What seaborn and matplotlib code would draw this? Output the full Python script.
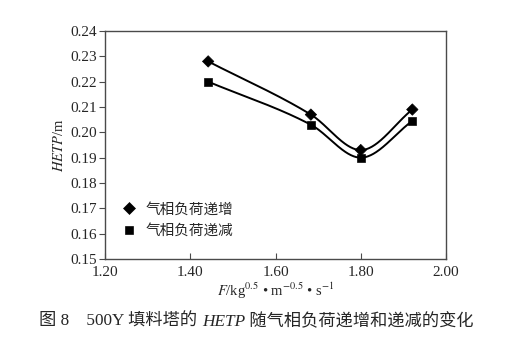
import numpy as np
import pandas as pd
import seaborn as sns
import matplotlib
matplotlib.use("Agg")
import matplotlib.pyplot as plt

# data
flow = [1.442, 1.683, 1.800, 1.921]
hetp_up = [0.228, 0.207, 0.193, 0.209]
hetp_down = [0.220, 0.203, 0.190, 0.2045]
series_names = ["气相负荷递增", "气相负荷递减"]
x_ticks = [1.20, 1.40, 1.60, 1.80, 2.00]
y_ticks = [0.15, 0.16, 0.17, 0.18, 0.19, 0.20, 0.21, 0.22, 0.23, 0.24]

sns.set_theme(style="ticks")
plt.rcParams["font.family"] = ["Liberation Serif", "Noto Sans CJK SC"]
plt.rcParams["mathtext.fontset"] = "stix"
cjk = ["Noto Sans CJK SC", "DejaVu Sans"]
spine_col = "#4a4a4a"


def smooth(x, y, n=300):
    # shape-preserving cubic through the measured points,
    # end tangents follow the end segments
    x = np.asarray(x, float)
    y = np.asarray(y, float)
    k = len(x)
    h = np.diff(x)
    d = np.diff(y) / h
    m = np.zeros(k)
    for i in range(1, k - 1):
        if d[i - 1] * d[i] > 0:
            w1 = 2 * h[i] + h[i - 1]
            w2 = h[i] + 2 * h[i - 1]
            m[i] = (w1 + w2) / (w1 / d[i - 1] + w2 / d[i])
    m[0] = d[0]
    m[-1] = d[-1]
    xs = np.linspace(x[0], x[-1], n)
    idx = np.clip(np.searchsorted(x, xs) - 1, 0, k - 2)
    hh = h[idx]
    t = (xs - x[idx]) / hh
    h00 = 2 * t**3 - 3 * t**2 + 1
    h10 = t**3 - 2 * t**2 + t
    h01 = -2 * t**3 + 3 * t**2
    h11 = t**3 - t**2
    ys = h00 * y[idx] + h10 * hh * m[idx] + h01 * y[idx + 1] + h11 * hh * m[idx + 1]
    return xs, ys


fig = plt.figure(figsize=(5.13, 3.59), dpi=100)
ax = fig.add_axes([0.2047, 0.2786, 0.6647, 0.635])

for vals in (hetp_up, hetp_down):
    xs, ys = smooth(flow, vals)
    sns.lineplot(x=xs, y=ys, color="black", lw=1.4, estimator=None,
                 sort=False, ax=ax, legend=False)

pts = pd.DataFrame({
    "F": flow * 2,
    "HETP": hetp_up + hetp_down,
    "series": [series_names[0]] * len(flow) + [series_names[1]] * len(flow),
})
sns.scatterplot(data=pts, x="F", y="HETP", style="series",
                markers={series_names[0]: "D", series_names[1]: "s"},
                color="black", edgecolor="black", s=34, ax=ax, zorder=3)

handles, labels = ax.get_legend_handles_labels()
ax.legend(handles, labels, loc="center left", bbox_to_anchor=(0.045, 0.171),
          frameon=False, borderpad=0, borderaxespad=0, handlelength=1.2,
          handletextpad=0.5, labelspacing=0.5,
          prop={"family": cjk, "size": 10.5})

ax.set_xlim(1.2, 2.0)
ax.set_ylim(0.15, 0.24)
ax.set_xticks(x_ticks)
ax.set_xticklabels([f"{v:.2f}" for v in x_ticks])
ax.set_yticks(y_ticks)
ax.set_yticklabels([f"{v:.2f}" for v in y_ticks])
ax.tick_params(axis="x", direction="in", length=4, width=0.8, color=spine_col,
               labelsize=11, pad=5)
ax.tick_params(axis="y", direction="out", length=4, width=0.8, color=spine_col,
               labelsize=11, pad=2)
for sp in ax.spines.values():
    sp.set_color(spine_col)
    sp.set_linewidth(1.0)

ax.set_xlabel(r"$\mathit{F}$/kg$^{0.5}$ • m$^{-0.5}$ • s$^{-1}$", fontsize=10.5,
              labelpad=1)
ax.set_ylabel(r"$\mathit{HETP}$/m", fontsize=10.5, labelpad=3)

# caption, drawn piece by piece so HETP can be italic
pieces = [("图 8\u2003500Y 填料塔的 ", "normal"), ("HETP", "italic"),
          (" 随气相负荷递增和递减的变化", "normal")]
renderer = fig.canvas.get_renderer()
texts = []
for s, style in pieces:
    t = fig.text(0, 0.103, s, fontsize=12.4, style=style, va="center",
                 family=["Liberation Serif", "Noto Sans CJK SC"])
    texts.append(t)
widths = [t.get_window_extent(renderer).width for t in texts]
x = (fig.bbox.width - sum(widths)) / 2
for t, w in zip(texts, widths):
    t.set_x(x / fig.bbox.width)
    x += w

fig.savefig("out.png", dpi=100)
